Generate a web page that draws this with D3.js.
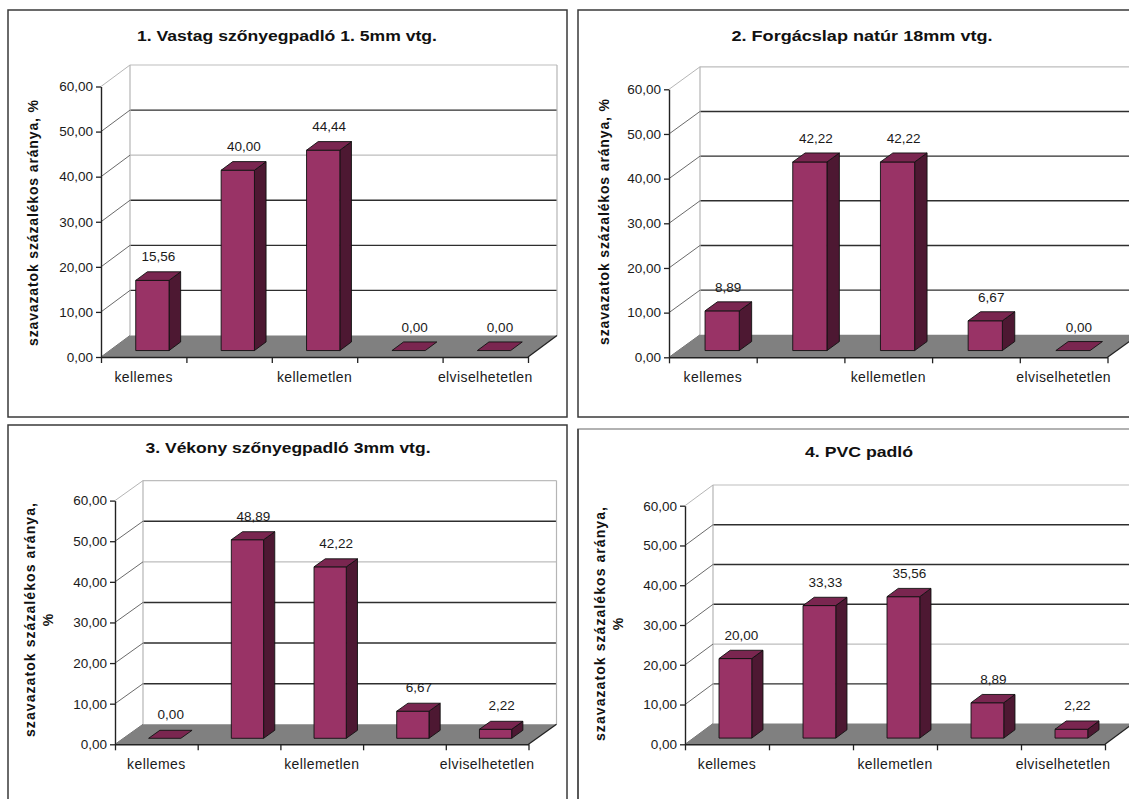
<!DOCTYPE html>
<html><head><meta charset="utf-8">
<script src="https://cdn.jsdelivr.net/npm/d3@7"></script>
<style>
body{margin:0;background:#fff}
svg{display:block}
text{font-family:"Liberation Sans",Arial,Helvetica,sans-serif}
</style></head>
<body><svg id="c" width="1129" height="799"></svg>
<script>
// ---- data ----
const categories = ["kellemes", "", "kellemetlen", "", "elviselhetetlen"];
const titles = ["1. Vastag szőnyegpadló 1. 5mm vtg.", "2. Forgácslap natúr 18mm vtg.", "3. Vékony szőnyegpadló 3mm vtg.", "4. PVC padló"];
const values1 = [15.56, 40.00, 44.44, 0.00, 0.00];
const values2 = [8.89, 42.22, 42.22, 6.67, 0.00];
const values3 = [0.00, 48.89, 42.22, 6.67, 2.22];
const values4 = [20.00, 33.33, 35.56, 8.89, 2.22];
const yTicks = [0, 10, 20, 30, 40, 50, 60];
const yTitleLine = "szavazatok százalékos aránya, %";
const yTitleLines = ["szavazatok százalékos aránya,", "%"];

// ---- layout ----
const panels = [
  {vals: values1, box:[8,10,559,407], x0:101, y0:357, yTop:86.5, w:427, dx:29, dy:-21.5,
   tX:287, tY:41, tLen:300, yX:33, yY:223, yLen:246, two:false, light:[40]},
  {vals: values2, box:[578,10,580,407], x0:669, y0:357.3, yTop:89.3, w:438.5, dx:31, dy:-22.5,
   tX:862, tY:41, tLen:261, yX:604, yY:222, yLen:246, two:false, light:[]},
  {vals: values3, box:[8,425,559,400], x0:115, y0:744.3, yTop:500.6, w:413.5, dx:28, dy:-20,
   tX:288, tY:453, tLen:285, yX:30, yY:620, yLen:234, two:true, light:[40]},
  {vals: values4, box:[578,429,580,400], x0:685, y0:744.3, yTop:505.7, w:420, dx:28, dy:-20.7,
   tX:859, tY:457, tLen:108, yX:600, yY:624, yLen:234, two:true, light:[20]}
];

const loc = d3.formatLocale({decimal:",", thousands:" ", grouping:[3], currency:["",""]});
const fmt = loc.format(".2f");
const svg = d3.select("#c");
const FRONT = "#993366", TOP = "#7a2650", SIDE = "#4d1832";
const zf = 0.3, zd = 0.4, wf = 0.39;

panels.forEach((p, pi) => {
  const g = svg.append("g");
  g.append("rect").attr("x", p.box[0]).attr("y", p.box[1]).attr("width", p.box[2]).attr("height", p.box[3])
    .attr("fill", "#fff").attr("stroke", pi === 3 ? "#999" : "#3a3a3a").attr("stroke-width", 1.5);
  if (pi === 3) {
    g.append("line").attr("x1", p.box[0]).attr("x2", p.box[0]).attr("y1", p.box[1]).attr("y2", 799)
      .attr("stroke", "#3a3a3a").attr("stroke-width", 1.5);
  }

  const y = d3.scaleLinear().domain([0, 60]).range([p.y0, p.yTop]);
  const x = d3.scaleBand().domain(d3.range(categories.length)).range([p.x0, p.x0 + p.w]).paddingInner(0).paddingOuter(0);
  const bw = x.bandwidth();
  const xEnd = p.x0 + p.w;

  // title
  g.append("text").attr("x", p.tX).attr("y", p.tY).attr("text-anchor", "middle")
    .attr("font-size", 15).attr("font-weight", "bold").attr("fill", "#111")
    .attr("textLength", p.tLen).attr("lengthAdjust", "spacingAndGlyphs").text(titles[pi]);

  // back wall
  const bT = y(60) + p.dy, bB = y(0) + p.dy;
  g.append("rect").attr("x", p.x0 + p.dx).attr("y", bT).attr("width", p.w).attr("height", bB - bT).attr("fill", "#fff");
  // back gridlines
  yTicks.filter(t => t > 0).forEach(t => {
    const lightLine = t === 60 || p.light.includes(t);
    g.append("line").attr("x1", p.x0 + p.dx).attr("x2", xEnd + p.dx)
      .attr("y1", y(t) + p.dy).attr("y2", y(t) + p.dy)
      .attr("stroke", lightLine ? "#bdbdbd" : "#2e2e2e").attr("stroke-width", lightLine ? 1.2 : 1.4);
  });
  // back wall vertical edges
  [p.x0 + p.dx, xEnd + p.dx].forEach(vx => {
    g.append("line").attr("x1", vx).attr("x2", vx).attr("y1", bT).attr("y2", bB)
      .attr("stroke", "#b5b5b5").attr("stroke-width", 1.2);
  });
  // side wall diagonals
  yTicks.forEach(t => {
    g.append("line").attr("x1", p.x0).attr("y1", y(t)).attr("x2", p.x0 + p.dx).attr("y2", y(t) + p.dy)
      .attr("stroke", t === 60 ? "#b5b5b5" : "#6a6a6a").attr("stroke-width", 1);
  });

  // floor
  g.append("polygon").attr("points", [
    [p.x0, y(0)], [p.x0 + p.dx, y(0) + p.dy], [xEnd + p.dx, y(0) + p.dy], [xEnd, y(0)]
  ].map(d => d.join(",")).join(" ")).attr("fill", "#808080");
  g.append("line").attr("x1", xEnd).attr("y1", y(0)).attr("x2", xEnd + p.dx).attr("y2", y(0) + p.dy)
    .attr("stroke", "#222").attr("stroke-width", 1.3);

  // bars
  p.vals.forEach((v, i) => {
    const bwid = bw * wf;
    const bx = x(i) + (bw - bwid) / 2 + zf * p.dx;
    const ft = y(v) + zf * p.dy, fb = y(0) + zf * p.dy;
    const ddx = zd * p.dx, ddy = zd * p.dy;
    const pts = a => a.map(d => d.join(",")).join(" ");
    const bg = g.append("g").attr("stroke", "#111").attr("stroke-width", 0.9).attr("stroke-linejoin", "round");
    if (fb - ft > 0.5) {
      bg.append("polygon").attr("points", pts([[bx + bwid, ft], [bx + bwid + ddx, ft + ddy], [bx + bwid + ddx, fb + ddy], [bx + bwid, fb]])).attr("fill", SIDE);
      bg.append("rect").attr("x", bx).attr("y", ft).attr("width", bwid).attr("height", fb - ft).attr("fill", FRONT);
    }
    bg.append("polygon").attr("points", pts([[bx, ft], [bx + ddx, ft + ddy], [bx + bwid + ddx, ft + ddy], [bx + bwid, ft]])).attr("fill", TOP);
    // value label
    g.append("text").attr("x", bx + bwid / 2 + 6).attr("y", ft - 19).attr("text-anchor", "middle")
      .attr("font-size", 13.5).attr("fill", "#1a1a1a").text(fmt(v));
  });

  // y axis
  const ya = g.append("g").attr("transform", `translate(${p.x0},0)`)
    .call(d3.axisLeft(y).tickValues(yTicks).tickSize(5).tickSizeOuter(0).tickPadding(3).tickFormat(fmt));
  ya.select(".domain").attr("stroke", "#222").attr("stroke-width", 1.4);
  ya.selectAll(".tick line").attr("stroke", "#222").attr("stroke-width", 1.3);
  ya.selectAll(".tick text").attr("font-size", 13.5).attr("fill", "#1a1a1a")
    .attr("font-family", '"Liberation Sans",Arial,sans-serif');

  // x axis (front floor edge) with boundary ticks
  const xa = g.append("g").attr("transform", `translate(0,${y(0)})`)
    .call(d3.axisBottom(d3.scaleLinear().domain([0, categories.length]).range([p.x0, xEnd]))
      .tickValues(d3.range(categories.length + 1)).tickSize(6).tickSizeOuter(0).tickFormat(""));
  xa.select(".domain").attr("stroke", "#222").attr("stroke-width", 1.4);
  xa.selectAll(".tick line").attr("stroke", "#222").attr("stroke-width", 1.3);
  categories.forEach((c, i) => {
    if (!c) return;
    g.append("text").attr("x", x(i) + bw / 2).attr("y", y(0) + 25).attr("text-anchor", "middle")
      .attr("font-size", 14).attr("letter-spacing", 0.4).attr("fill", "#1a1a1a").text(c);
  });

  // y title
  const yt = g.append("g").attr("transform", `translate(${p.yX},${p.yY}) rotate(-90)`);
  if (!p.two) {
    yt.append("text").attr("text-anchor", "middle").attr("dominant-baseline", "central")
      .attr("font-size", 14).attr("font-weight", "bold").attr("fill", "#111")
      .attr("textLength", p.yLen).attr("lengthAdjust", "spacing").text(yTitleLine);
  } else {
    yt.append("text").attr("text-anchor", "middle").attr("dominant-baseline", "central")
      .attr("font-size", 14).attr("font-weight", "bold").attr("fill", "#111")
      .attr("textLength", p.yLen).attr("lengthAdjust", "spacing").text(yTitleLines[0]);
    yt.append("text").attr("y", 18).attr("text-anchor", "middle").attr("dominant-baseline", "central")
      .attr("font-size", 14).attr("font-weight", "bold").attr("fill", "#111").text(yTitleLines[1]);
  }
});
</script></body></html>
